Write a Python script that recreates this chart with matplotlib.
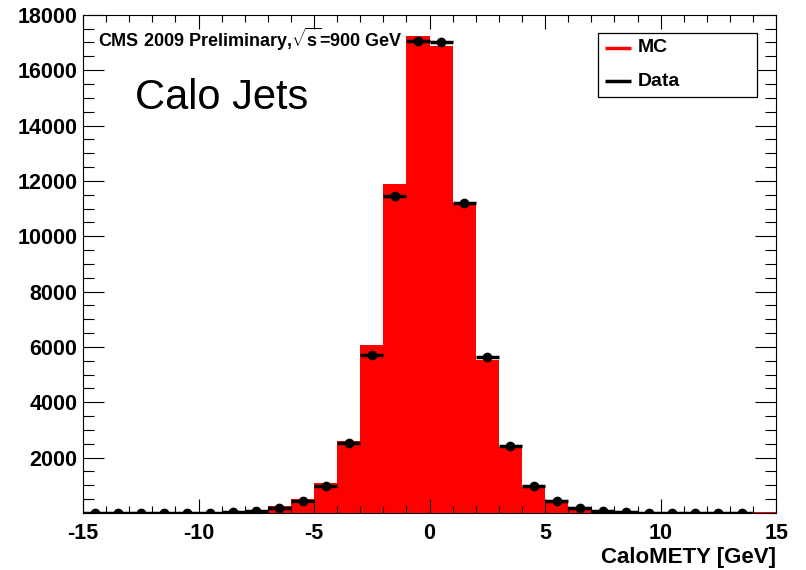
import numpy as np
import matplotlib
matplotlib.use("Agg")
import matplotlib.pyplot as plt
from matplotlib.ticker import MultipleLocator
from matplotlib.patches import Rectangle

plt.rcParams['font.family'] = ['Liberation Sans', 'DejaVu Sans']
plt.rcParams['axes.unicode_minus'] = False
plt.rcParams['mathtext.fontset'] = 'custom'
plt.rcParams['mathtext.rm'] = 'Liberation Sans:bold'

# CaloMETY histogram, 1 GeV bins from -15 to 15
edges = np.arange(-15, 16, 1)
centers = edges[:-1] + 0.5
mc = [5, 5, 8, 10, 12, 20, 45, 90, 240, 500, 1070, 2600, 6060, 11880, 17220,
      16870, 11190, 5520, 2370, 950, 410, 200, 80, 40, 20, 10, 8, 5, 5, 40]
data = [3, 3, 5, 8, 10, 15, 50, 70, 180, 430, 980, 2530, 5700, 11440, 17050,
        17030, 11200, 5620, 2430, 980, 430, 180, 70, 30, 15, 10, 8, 5, 3, np.nan]

data = np.array(data, dtype=float)

fig = plt.figure(figsize=(8.06, 5.70), dpi=100)
ax = fig.add_axes([0.103, 0.1, 0.860, 0.874])

ax.stairs(mc, edges, fill=True, color='#ff0000', linewidth=0)
ax.errorbar(centers, data, xerr=0.5, yerr=np.sqrt(data), fmt='o', color='black',
            ms=6, elinewidth=2.5, capsize=0)

ax.set_xlim(-15, 15)
ax.set_ylim(0, 18000)
ax.xaxis.set_major_locator(MultipleLocator(5))
ax.xaxis.set_minor_locator(MultipleLocator(1))
ax.yaxis.set_minor_locator(MultipleLocator(500))
ax.set_yticks([2000 * i for i in range(1, 10)])
ax.tick_params(which='both', direction='in', top=True, right=True, width=0.8, labelsize=15.5)
ax.tick_params(axis='x', which='major', length=10, pad=7)
ax.tick_params(axis='x', which='minor', length=5)
ax.tick_params(axis='y', which='major', length=15, pad=4)
ax.tick_params(axis='y', which='minor', length=8)
for lab in ax.get_xticklabels() + ax.get_yticklabels():
    lab.set_fontweight('bold')

for s in ax.spines.values():
    s.set_linewidth(0.8)

fig.text(776 / 806, 1 - 557 / 570, 'CaloMETY [GeV]', fontsize=16, fontweight='bold',
         ha='right', va='center')

ax.text(0.0216, 0.950, r'CMS 2009 Preliminary,$\sqrt{\mathrm{s}}$=900 GeV', transform=ax.transAxes,
        fontsize=13, fontweight='bold', va='center')
ax.text(0.075, 0.833, 'Calo Jets', transform=ax.transAxes, fontsize=30, va='center')

# legend box
ax.add_patch(Rectangle((0.743, 0.835), 0.230, 0.129, transform=ax.transAxes,
                       facecolor='white', edgecolor='black', linewidth=0.9, zorder=5))
for yy, col, lab in [(0.934, '#ff0000', 'MC'), (0.867, 'black', 'Data')]:
    ax.plot([0.7525, 0.791], [yy, yy], color=col, lw=2.5, transform=ax.transAxes,
            zorder=6, solid_capstyle='butt')
    ax.text(0.801, yy, lab, transform=ax.transAxes, fontsize=14, fontweight='bold',
            va='center', zorder=6)

fig.savefig('out.png', dpi=100)
